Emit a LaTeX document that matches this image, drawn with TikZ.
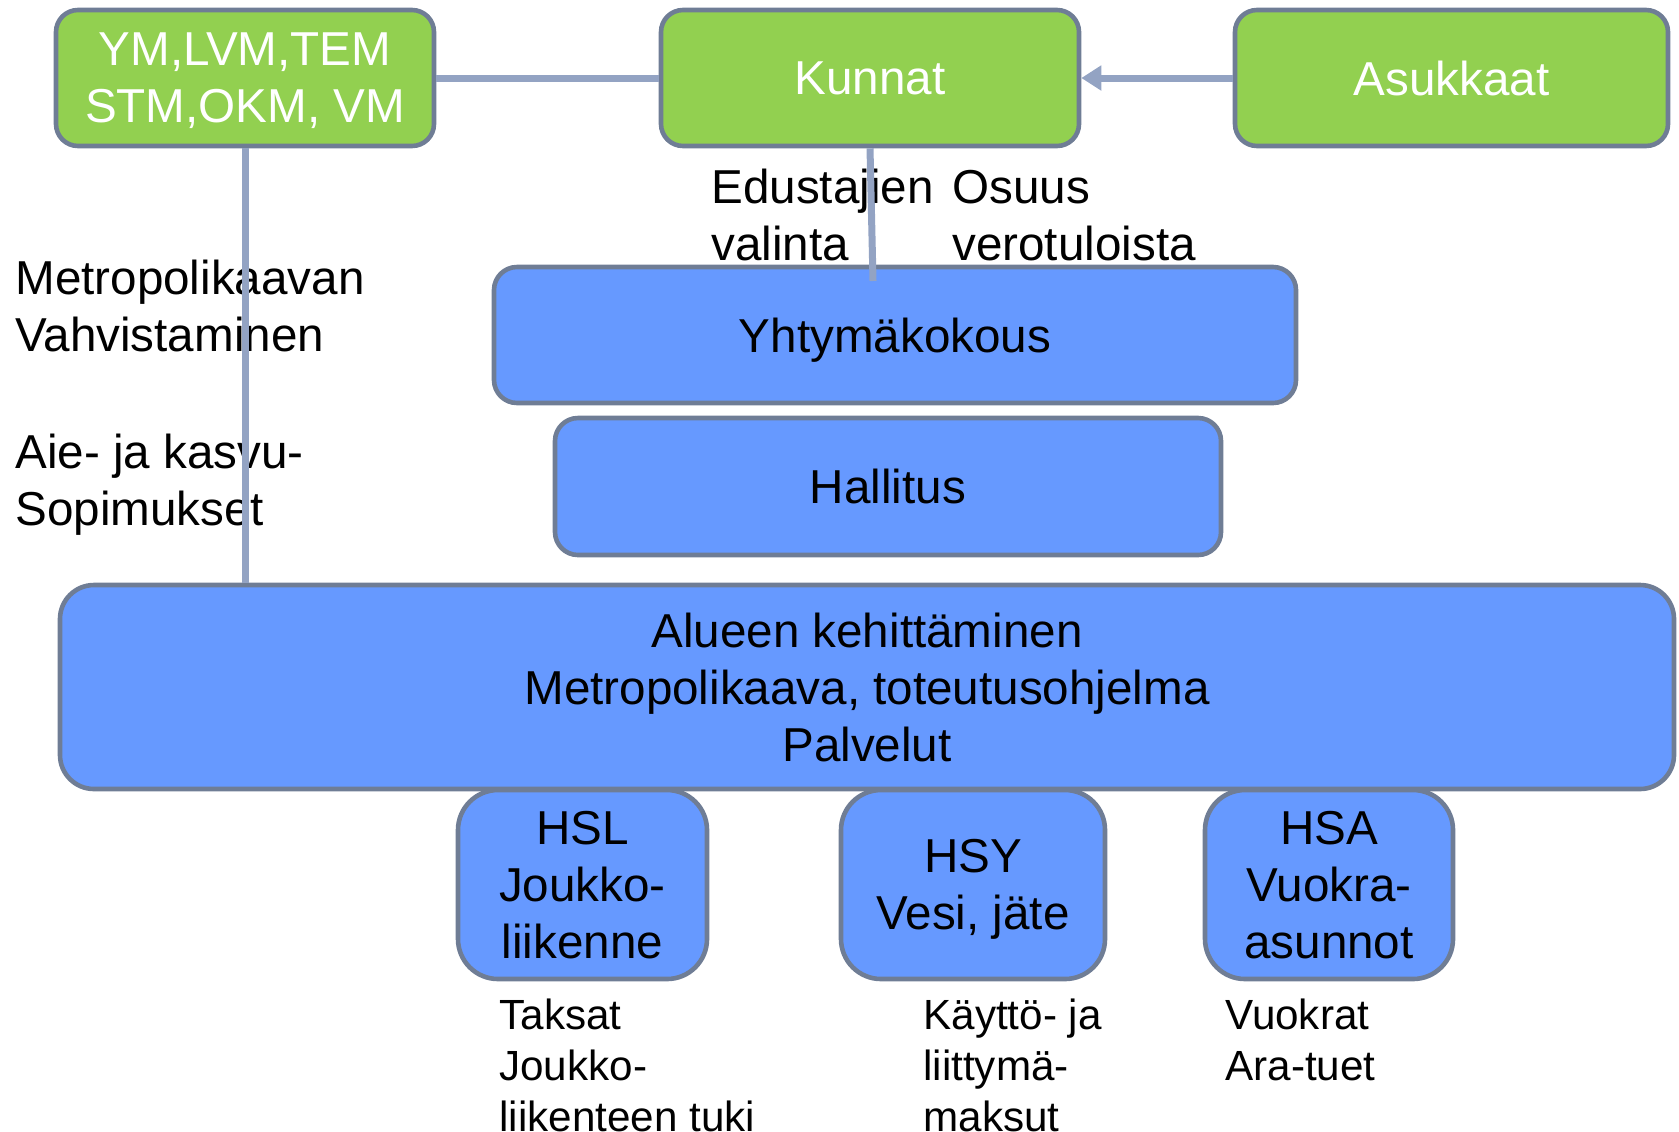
\documentclass[tikz,border=0pt]{standalone}
\usepackage{fontspec}
\setmainfont{Liberation Sans}
\usetikzlibrary{arrows.meta}
\definecolor{gfill}{HTML}{92D050}
\definecolor{bfill}{HTML}{6699FF}
\definecolor{bord}{HTML}{6F7D95}
\definecolor{conc}{HTML}{93A3C3}
\newcommand\fbig{\fontsize{23.8pt}{28.5pt}\selectfont}
\newcommand\fsmall{\fontsize{21.1pt}{25.5pt}\selectfont}
\tikzset{
  basebox/.style={draw=bord, line width=2.3pt, rectangle, inner sep=0pt, align=center, font=\fbig, text depth=0pt},
  greenbox/.style={basebox, fill=gfill, text=white, rounded corners=11pt},
  bluebox/.style={basebox, fill=bfill, text=black},
  lbl/.style={inner sep=0pt, align=left, anchor=west, font=\fbig, text depth=0pt},
  slbl/.style={inner sep=0pt, align=left, anchor=west, font=\fsmall, text depth=0pt},
  conn/.style={draw=conc, line width=3.5pt},
}
\begin{document}
\begin{tikzpicture}[x=0.5pt, y=-0.5pt]
\useasboundingbox (0,0) rectangle (1679,1131);
% lower sub boxes (behind main box)
\node[bluebox, rounded corners=20pt, minimum width=124.5pt, minimum height=94.5pt] (hsl) at (582.5,884.5) {HSL\\Joukko-\\liikenne};
\node[bluebox, rounded corners=20pt, minimum width=132pt, minimum height=94.5pt] (hsy) at (973,884.5) {HSY\\Vesi, jäte};
\node[bluebox, rounded corners=20pt, minimum width=124pt, minimum height=94.5pt] (hsa) at (1329,884.5) {HSA\\Vuokra-\\asunnot};
% main box
\node[bluebox, rounded corners=17pt, minimum width=807pt, minimum height=102pt] (alue) at (867,687) {Alueen kehittäminen\\Metropolikaava, toteutusohjelma\\Palvelut};
\node[bluebox, rounded corners=11.5pt, minimum width=333pt, minimum height=68.5pt] (hal) at (888,486.5) {Hallitus};
\node[bluebox, rounded corners=11.5pt, minimum width=401pt, minimum height=68pt] (yht) at (895,335) {Yhtymäkokous};
% top boxes
\node[greenbox, minimum width=189pt, minimum height=68pt] (ym) at (245,78) {YM,LVM,TEM\\STM,OKM, VM};
\node[greenbox, minimum width=209pt, minimum height=68pt] (kun) at (870,78) {Kunnat};
\node[greenbox, minimum width=216.5pt, minimum height=68pt] (asu) at (1451.5,78) {Asukkaat};
% labels
\node[lbl] (l1) at (15,305.5) {Metropolikaavan\\Vahvistaminen};
\node[lbl] (l2) at (15,479.5) {Aie- ja kasvu-\\Sopimukset};
\node[lbl] (l3) at (711,215) {Edustajien\\valinta};
\node[lbl] (l4) at (952,215) {Osuus\\verotuloista};
\node[slbl] (b1) at (499,1065.5) {Taksat\\Joukko-\\liikenteen tuki};
\node[slbl] (b2) at (923,1065.5) {Käyttö- ja\\liittymä-\\maksut};
\node[slbl] (b3) at (1225,1039.5) {Vuokrat\\Ara-tuet};
% connectors
\coordinate (kend) at (873,281);
\draw[conn] (ym.east) -- (kun.west);
\draw[conn, -{Triangle[length=10pt, width=12pt]}] (asu.west) -- (kun.east);
\draw[conn] (ym.south) -- (ym.south |- alue.north);
\draw[conn] (kun.south) -- (kend);
\end{tikzpicture}
\end{document}
